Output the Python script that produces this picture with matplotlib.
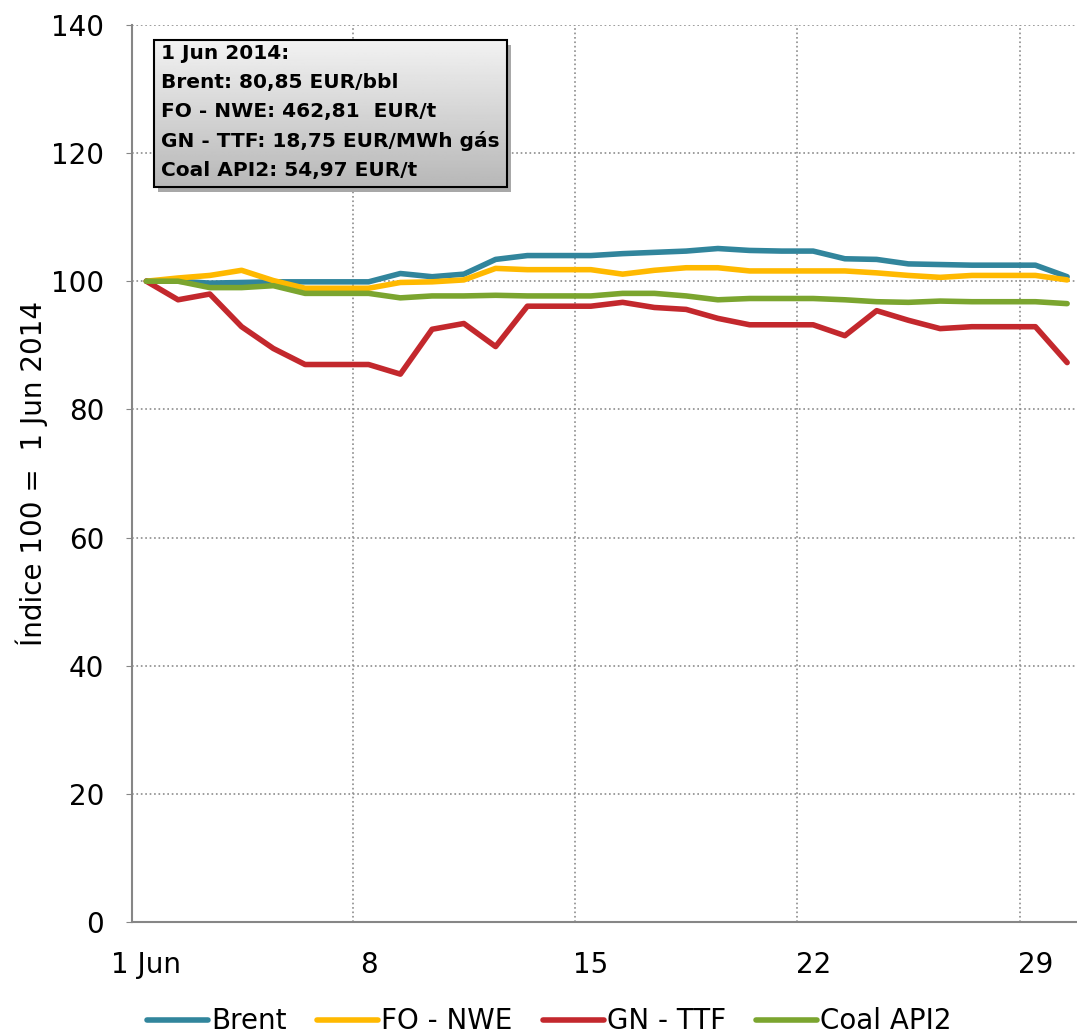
import matplotlib.pyplot as plt
import numpy as np

days = np.arange(1, 31)
brent = [100, 100, 99.7, 99.8, 99.9, 99.9, 99.9, 99.9, 101.2, 100.7,
         101.1, 103.4, 104.0, 104.0, 104.0, 104.3, 104.5, 104.7, 105.1, 104.8,
         104.7, 104.7, 103.5, 103.4, 102.7, 102.6, 102.5, 102.5, 102.5, 100.7]
fo_nwe = [100, 100.5, 100.9, 101.7, 100.1, 98.9, 98.9, 98.9, 99.8, 99.9,
          100.2, 102.0, 101.8, 101.8, 101.8, 101.1, 101.7, 102.1, 102.1, 101.6,
          101.6, 101.6, 101.6, 101.3, 100.9, 100.6, 100.9, 100.9, 100.9, 100.2]
gn_ttf = [100, 97.1, 98.0, 92.9, 89.5, 87.0, 87.0, 87.0, 85.5, 92.5,
          93.4, 89.8, 96.1, 96.1, 96.1, 96.7, 95.9, 95.6, 94.2, 93.2,
          93.2, 93.2, 91.5, 95.4, 93.9, 92.6, 92.9, 92.9, 92.9, 87.3]
coal = [100, 100, 99.0, 99.0, 99.3, 98.1, 98.1, 98.1, 97.4, 97.7,
        97.7, 97.8, 97.7, 97.7, 97.7, 98.1, 98.1, 97.7, 97.1, 97.3,
        97.3, 97.3, 97.1, 96.8, 96.7, 96.9, 96.8, 96.8, 96.8, 96.5]
names = ['Brent', 'FO - NWE', 'GN - TTF', 'Coal API2']
colors = ['#31859c', '#ffb900', '#c3282d', '#7ba52f']
xtick_pos = [1, 8, 15, 22, 29]
xtick_lab = ['1 Jun', '8', '15', '22', '29']
info = ('1 Jun 2014:\nBrent: 80,85 EUR/bbl\nFO - NWE: 462,81  EUR/t\n'
        'GN - TTF: 18,75 EUR/MWh gás\nCoal API2: 54,97 EUR/t')

fig = plt.figure(figsize=(10.77, 10.36), dpi=100)
ax = fig.add_axes([0.1226, 0.110, 0.883, 0.866])

for vals, name, c in zip([brent, fo_nwe, gn_ttf, coal], names, colors):
    ax.plot(days, vals, color=c, linewidth=4.0, label=name, solid_capstyle='round')

ax.set_xlim(0.55, 30.5)
ax.set_ylim(0, 140)
ax.set_yticks(np.arange(0, 141, 20))
ax.set_xticks(xtick_pos)
ax.set_xticklabels(xtick_lab)
ax.set_xticks([7.5, 14.5, 21.5, 28.5], minor=True)
ax.tick_params(axis='x', which='both', length=0, labelsize=20, pad=21)
ax.tick_params(axis='y', length=4, color='#868686', labelsize=20, pad=16)
ax.grid(axis='y', which='major', color='#8c8c8c', linestyle=':', linewidth=1.2)
ax.grid(axis='x', which='minor', color='#8c8c8c', linestyle=':', linewidth=1.2)
ax.set_axisbelow(True)
for s in ['top', 'right']:
    ax.spines[s].set_visible(False)
for s in ['left', 'bottom']:
    ax.spines[s].set_color('#868686')
    ax.spines[s].set_linewidth(1.5)
ax.set_ylabel('Índice 100 =  1 Jun 2014', fontsize=20, labelpad=2)

# caixa com gradiente
x0, x1, y0, y1 = 0.023, 0.394, 0.819, 0.983
grad = np.linspace(0.95, 0.72, 100).reshape(-1, 1)
ax.imshow(grad, cmap='gray', vmin=0, vmax=1, aspect='auto', extent=[x0, x1, y0, y1],
          transform=ax.transAxes, zorder=5)
ax.add_patch(plt.Rectangle((x0 + 0.004, y0 - 0.005), x1 - x0, y1 - y0, transform=ax.transAxes,
                           facecolor='#a8a8a8', edgecolor='none', zorder=4))
ax.add_patch(plt.Rectangle((x0, y0), x1 - x0, y1 - y0, transform=ax.transAxes,
                           facecolor='none', edgecolor='black', linewidth=1.5, zorder=6))
ax.text(x0 + 0.007, y1 - 0.004, info, transform=ax.transAxes, fontsize=14.5,
        fontweight='bold', va='top', ha='left', linespacing=1.66, zorder=7)

fig.legend(loc='center', bbox_to_anchor=(0.51, 0.014), ncol=4, frameon=False,
           fontsize=20, handlelength=2.2, handletextpad=0.1, columnspacing=1.1)

fig.savefig('out.png', dpi=100)
